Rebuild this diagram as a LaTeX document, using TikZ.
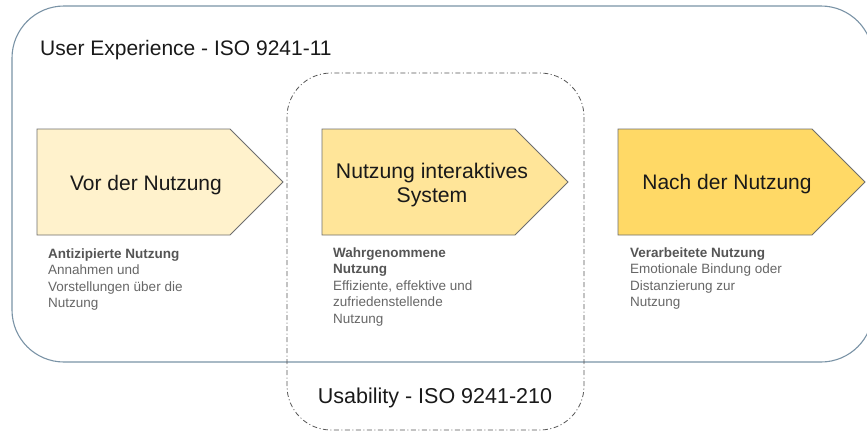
\documentclass[tikz,border=0pt]{standalone}
\usepackage{fontspec}
\setmainfont{Liberation Sans}
\definecolor{uxframe}{HTML}{7A93A6}
\definecolor{usaframe}{HTML}{555555}
\definecolor{phaseline}{HTML}{6E6E6E}
\definecolor{phaseA}{HTML}{FFF2CC}
\definecolor{phaseB}{HTML}{FFE599}
\definecolor{phaseC}{HTML}{FFD966}
\definecolor{notehead}{HTML}{555555}
\definecolor{notebody}{HTML}{666666}
\tikzset{
  uxbox/.style={draw=uxframe, line width=1.1pt, rounded corners=52pt},
  usabox/.style={draw=usaframe, line width=0.8pt, rounded corners=44pt,
    dash pattern=on 5pt off 2.5pt on 1pt off 2.5pt},
  phase/.style={draw=phaseline, line width=0.9pt, line join=miter},
  biglabel/.style={inner sep=0pt, font=\fontsize{21}{25}\selectfont, text=black!90},
  phasetext/.style={inner sep=0pt, align=center, font=\fontsize{21.2}{24.5}\selectfont, text=black!90},
  % multi-line notes: the base anchor sits on the last line
  note/.style={inner sep=0pt, align=left, anchor=base west,
    font=\fontsize{13.5}{16.5}\selectfont, text=notebody}
}
\newcommand{\notetitle}[1]{\textcolor{notehead}{\bfseries #1}}
\begin{document}
\begin{tikzpicture}[x=1pt, y=-1pt]
  \useasboundingbox (0,0) rectangle (867,432);
  \clip (0,0) rectangle (867,432);

  % frames
  \draw[uxbox] (12,6) rectangle (873,362);
  \draw[usabox] (287,73) rectangle (584,430);

  % phase arrows
  \draw[phase, fill=phaseA] (37,129) -- (230,129) -- (283,182) -- (230,235) -- (37,235) -- cycle;
  \draw[phase, fill=phaseB] (322,129) -- (515,129) -- (568,182) -- (515,235) -- (322,235) -- cycle;
  \draw[phase, fill=phaseC] (618,129) -- (812,129) -- (865,182) -- (812,235) -- (618,235) -- cycle;

  % frame titles
  \node[biglabel, anchor=base west] (uxtitle) at (40,55.5) {User Experience - ISO 9241-11};
  \node[biglabel, anchor=base, font=\fontsize{21.5}{25}\selectfont] (usatitle) at (435,403) {Usability - ISO 9241-210};

  % phase labels
  \node[biglabel, anchor=base] (preuse) at (146,190) {Vor der Nutzung};
  \node[phasetext, anchor=base] (inuse) at (432,202.8) {Nutzung interaktives\\System};
  \node[biglabel, anchor=base] (postuse) at (727,189) {Nach der Nutzung};

  % notes below the phases
  \node[note] (prenote) at (48,307.5)
    {\notetitle{Antizipierte Nutzung}\\Annahmen und\\Vorstellungen über die\\Nutzung};
  \node[note] (innote) at (333,323)
    {\notetitle{Wahrgenommene}\\\notetitle{Nutzung}\\Effiziente, effektive und\\zufriedenstellende\\Nutzung};
  \node[note] (postnote) at (630,306.5)
    {\notetitle{Verarbeitete Nutzung}\\Emotionale Bindung oder\\Distanzierung zur\\Nutzung};
\end{tikzpicture}
\end{document}
